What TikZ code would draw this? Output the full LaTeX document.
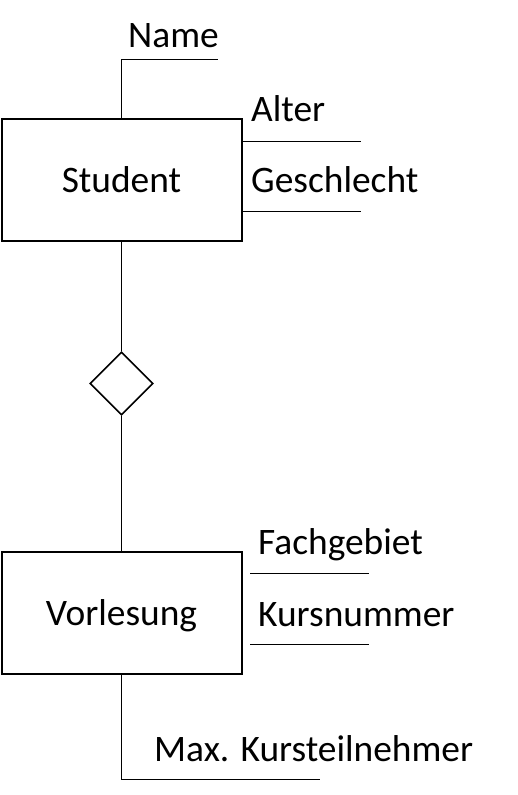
\documentclass[tikz,border=0pt]{standalone}
\usepackage{fontspec}
\setmainfont{Carlito}
\usetikzlibrary{positioning,shapes.geometric}

\begin{document}
\begin{tikzpicture}[x=1pt, y=-1pt]
			\tikzstyle{entity}=[rectangle, draw, line width=2pt, minimum width=240pt, minimum height=122pt, inner sep=0pt, text height=24pt, text depth=0pt, font=\fontsize{37.4}{44}\selectfont]
			\tikzstyle{relation}=[diamond, draw, line width=1.6pt, minimum width=63pt, minimum height=63pt, inner sep=0pt]
			\tikzstyle{attr}=[anchor=base west, inner sep=0pt, font=\fontsize{37.4}{44}\selectfont]
			\tikzstyle{link}=[line width=1pt]

			\useasboundingbox (0,0) rectangle (518,795);

			\node [entity] (student) at (121.5,180) {Student};
			\node [relation] (belegt) at (121.5,383.5) {};
			\node [entity] (vorlesung) at (121.5,613) {Vorlesung};

			\node [attr] (name) at (128,47) {Name};
			\node [attr] (alter) at (251,121) {Alter};
			\node [attr] (geschlecht) at (251,192) {Geschlecht};
			\node [attr] (fachgebiet) at (258,554) {Fachgebiet};
			\node [attr] (kursnummer) at (258,626) {Kursnummer};
			\node [attr] (maxteilnehmer) at (154,761) {Max. Kursteilnehmer};

			\coordinate (nameEnd) at (218,59.5);
			\coordinate (alterEnd) at (361,141);
			\coordinate (geschlechtEnd) at (361,211);
			\coordinate (fachStart) at (250,573);
			\coordinate (fachEnd) at (369,573);
			\coordinate (kursStart) at (250,644);
			\coordinate (kursEnd) at (369,644);
			\coordinate (maxEnd) at (320,779);

			\path[link]
			(student) edge (belegt)
			(belegt) edge (vorlesung);

			\draw[link] (student.north) |- (nameEnd);
			\draw[link] (student.east |- alterEnd) -- (alterEnd);
			\draw[link] (student.east |- geschlechtEnd) -- (geschlechtEnd);
			\draw[link] (fachStart) -- (fachEnd);
			\draw[link] (kursStart) -- (kursEnd);
			\draw[link] (vorlesung.south) |- (maxEnd);
		\end{tikzpicture}
\end{document}
